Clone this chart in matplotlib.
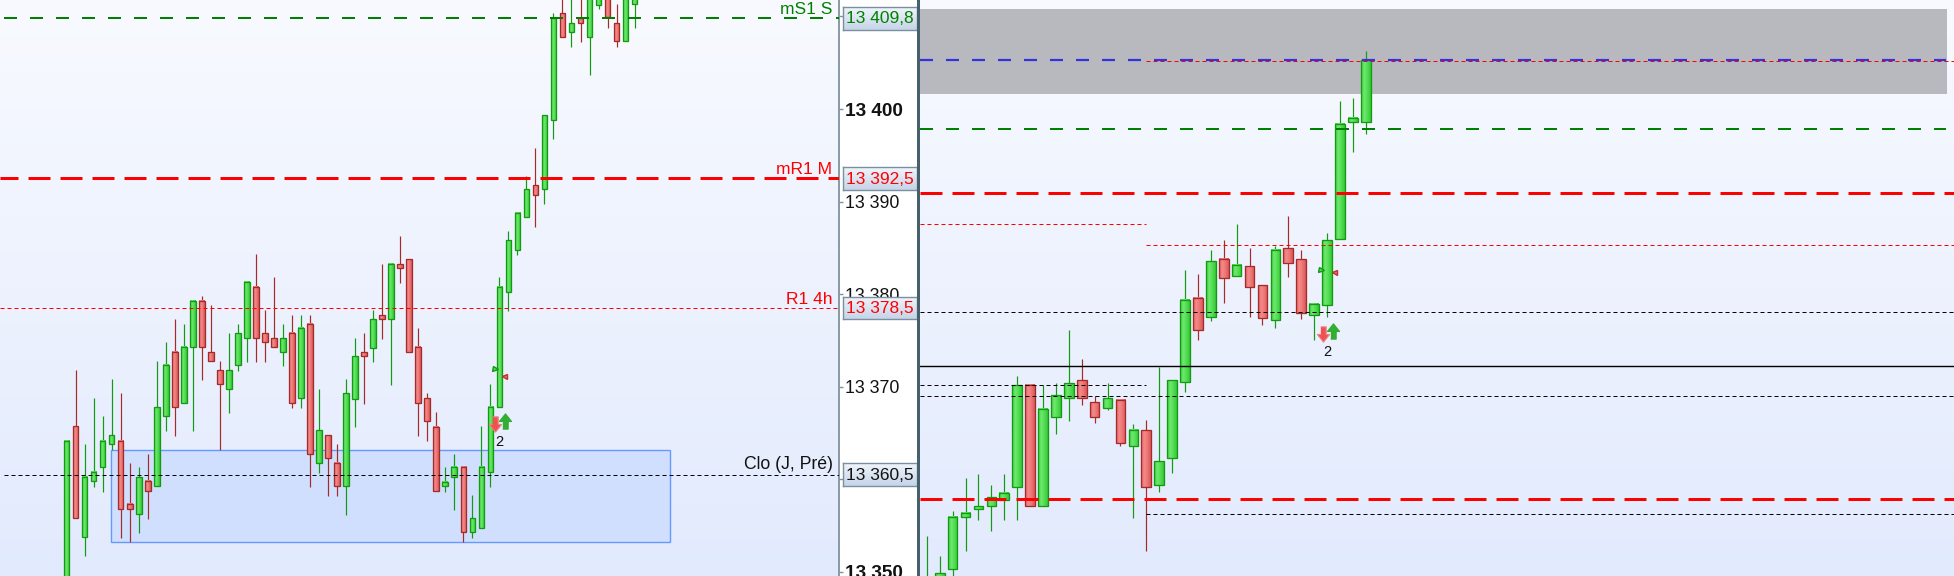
import matplotlib
matplotlib.use("Agg")
import matplotlib.pyplot as plt
import numpy as np
from matplotlib.colors import LinearSegmentedColormap
from matplotlib.patches import Rectangle

plt.rcParams['font.family'] = ['Liberation Sans', 'DejaVu Sans']

# left chart candles
left_top = [13364.18, 13365.73, 13360.22, 13360.77, 13364.18, 13364.76, 13364.18, 13357.31, 13360.22, 13359.79,
            13367.78, 13372.32, 13373.72, 13374.26, 13379.23, 13379.23, 13373.72, 13371.78, 13371.78, 13375.77,
            13381.28, 13380.74, 13375.77, 13375.23, 13375.23, 13375.77, 13376.31, 13376.75, 13365.30, 13364.76,
            13361.74, 13369.29, 13373.29, 13373.72, 13377.28, 13377.71, 13383.22, 13383.22, 13383.76, 13374.26,
            13368.75, 13365.69, 13359.75, 13361.30, 13361.30, 13355.79, 13361.30, 13367.78, 13380.74, 13385.81,
            13388.73, 13391.32, 13391.76, 13399.31, 13409.86, 13410.33, 13409.25, 13409.86, 13413.00, 13412.50,
            13413.00, 13409.25, 13413.00, 13412.50]
left_bot = [13348.00, 13355.80, 13353.74, 13359.79, 13361.30, 13363.79, 13356.77, 13356.77, 13356.23, 13358.71,
            13359.25, 13366.81, 13367.78, 13368.21, 13374.26, 13374.26, 13372.75, 13370.27, 13369.73, 13372.32,
            13375.23, 13375.23, 13374.80, 13374.26, 13373.72, 13368.21, 13368.75, 13362.71, 13361.74, 13362.28,
            13359.25, 13359.25, 13368.72, 13373.29, 13374.22, 13377.28, 13377.28, 13382.79, 13373.72, 13368.21,
            13366.27, 13358.71, 13359.25, 13360.22, 13354.28, 13354.28, 13354.71, 13360.76, 13367.78, 13380.27,
            13384.73, 13388.30, 13390.75, 13391.32, 13398.77, 13407.74, 13408.28, 13409.25, 13407.74, 13411.27,
            13409.90, 13407.31, 13407.31, 13411.30]
left_high = [13364.18, 13371.78, 13363.79, 13368.75, 13366.81, 13370.81, 13369.29, 13361.74, 13361.30, 13362.71,
             13372.75, 13374.80, 13377.29, 13376.75, 13379.23, 13379.77, 13378.80, 13372.75, 13375.77, 13376.75,
             13381.28, 13384.31, 13378.26, 13381.82, 13376.75, 13377.72, 13377.72, 13377.72, 13369.73, 13364.76,
             13363.79, 13370.81, 13375.23, 13375.77, 13378.25, 13383.22, 13383.22, 13386.25, 13383.76, 13376.31,
             13369.29, 13367.24, 13361.30, 13362.70, 13361.30, 13358.28, 13365.73, 13370.26, 13381.82, 13386.79,
             13388.73, 13392.77, 13395.75, 13399.31, 13410.33, 13413.00, 13413.00, 13413.00, 13413.00, 13412.50,
             13413.00, 13411.30, 13413.00, 13412.50]
left_low = [13347.00, 13355.80, 13351.77, 13359.22, 13358.67, 13363.21, 13353.71, 13353.24, 13354.25, 13355.77,
            13359.25, 13365.26, 13364.72, 13368.21, 13365.26, 13370.77, 13372.75, 13363.14, 13367.21, 13371.74,
            13372.71, 13372.71, 13372.71, 13374.26, 13372.28, 13367.71, 13367.71, 13359.22, 13360.73, 13358.24,
            13358.24, 13356.19, 13365.69, 13368.17, 13372.71, 13375.20, 13370.23, 13381.24, 13373.72, 13364.72,
            13364.18, 13358.71, 13358.67, 13356.73, 13353.24, 13353.71, 13354.71, 13359.21, 13367.78, 13378.22,
            13384.27, 13388.30, 13387.29, 13389.77, 13396.80, 13407.74, 13406.73, 13407.27, 13403.71, 13410.77,
            13408.78, 13406.73, 13407.31, 13408.78]
left_up = [1, 0, 1, 1, 1, 1, 0, 0, 1, 0, 1, 1, 0, 1, 1, 0, 0, 0, 1, 1, 1, 0, 0, 0, 1, 0, 1, 0, 1, 0, 0, 1,
           1, 0, 1, 0, 1, 0, 0, 0, 0, 0, 1, 1, 0, 1, 1, 1, 1, 1, 1, 1, 0, 1, 1, 0, 1, 0, 1, 1, 0, 0, 1, 1]

# right chart candles
right_top = [13312.00, 13314.45, 13323.78, 13324.45, 13325.61, 13327.11, 13327.78, 13345.78, 13345.78, 13341.78,
             13344.11, 13346.11, 13346.61, 13342.95, 13343.61, 13343.28, 13338.28, 13338.28, 13333.11, 13346.61,
             13359.95, 13360.28, 13366.44, 13366.78, 13365.78, 13365.61, 13362.44, 13368.28, 13368.61, 13366.78,
             13359.28, 13369.94, 13389.28, 13390.28, 13399.94]
right_bot = [13310.00, 13311.00, 13315.11, 13323.78, 13325.23, 13325.61, 13326.61, 13328.78, 13325.61, 13325.61,
             13340.45, 13343.61, 13343.61, 13340.45, 13341.95, 13336.11, 13335.61, 13328.78, 13329.11, 13333.61,
             13346.28, 13354.94, 13357.11, 13363.61, 13363.94, 13362.11, 13356.94, 13356.61, 13366.11, 13357.78,
             13357.44, 13359.11, 13370.11, 13389.61, 13389.61]
right_high = [13320.67, 13317.34, 13324.78, 13330.28, 13330.95, 13329.11, 13330.95, 13347.28, 13345.78, 13345.78,
              13346.11, 13354.95, 13350.11, 13343.95, 13346.11, 13343.28, 13339.28, 13339.95, 13348.78, 13346.61,
              13364.94, 13364.28, 13368.28, 13369.94, 13372.61, 13368.61, 13362.44, 13368.94, 13373.94, 13368.28,
              13359.28, 13371.11, 13393.11, 13393.61, 13401.44]
right_low = [13308.00, 13310.00, 13313.00, 13318.23, 13323.39, 13321.56, 13323.39, 13323.39, 13325.61, 13325.61,
             13337.73, 13339.89, 13342.56, 13339.56, 13341.67, 13335.73, 13323.73, 13318.23, 13328.06, 13331.23,
             13344.73, 13353.39, 13356.56, 13359.56, 13363.94, 13357.11, 13355.89, 13355.28, 13363.89, 13356.89,
             13353.39, 13357.11, 13370.11, 13384.72, 13387.72]
right_up = [1, 1, 1, 1, 1, 1, 1, 1, 0, 1, 1, 1, 0, 0, 1, 0, 1, 0, 1, 1, 1, 0, 1, 0, 1, 0, 0, 1, 0, 0, 1, 1, 1, 1, 1]

# price levels
left_ticks = [13350, 13360, 13370, 13380, 13390, 13400, 13410]
tick_labels = ['13 350', '13 360', '13 370', '13 380', '13 390', '13 400', '13 410']
bold_ticks = ['13 350', '13 400']
lev_ms1 = 13409.8
lev_mr1 = 13392.5
lev_r1 = 13378.5
lev_clo = 13360.5
zone_left = (13353.21, 13363.14)
zone_right = (13394.38, 13408.5)
r_blue = 13400.05
r_red_dot_top = 13399.84
r_green = 13388.55
r_red_thick = [13377.78, 13326.78]
r_red_dot_a = 13372.62
r_red_dot_b = 13369.12
r_black_full = [13357.95, 13343.92]
r_black_solid = 13348.93
r_black_a = 13345.78
r_black_b = 13324.28

# signals, candle index and price
left_tri = [(47.55, 13371.89), (48.47, 13371.13)]
left_arrows = [(47.47, 13365.98), (48.58, 13366.34)]
left_count = (47.96, 13364.04)
right_tri = [(30.57, 13364.95), (31.56, 13364.62)]
right_arrows = [(30.67, 13354.33), (31.45, 13354.88)]
right_count = (31.04, 13351.33)

W, H = 1954, 576
PX = 72.0 / 100.0
L_END = 838.5
R_START = 919.5
L_X0, L_STEP = 66.6, 9.016
R_X0, R_STEP = 926.8, 12.91

fig = plt.figure(figsize=(W / 100, H / 100), dpi=100, facecolor='white')
ax1 = fig.add_axes([0, 0, L_END / W, 1])
ax2 = fig.add_axes([R_START / W, 0, (W - R_START) / W, 1])

ax1.set_xlim(-L_X0 / L_STEP, (L_END - L_X0) / L_STEP)
ax1.set_ylim(13400 - (H - 109) / 9.26, 13400 + 109 / 9.26)
ax2.set_xlim((R_START - R_X0) / R_STEP, (W - R_X0) / R_STEP)
ax2.set_ylim(13410 - H / 6.0, 13410)

bg = LinearSegmentedColormap.from_list('bg', ['#f8faff', '#e2eafd'])
green_cm = LinearSegmentedColormap.from_list('g', ['#3fd03f', '#6ee86e', '#52dc52', '#36c836'])
red_cm = LinearSegmentedColormap.from_list('r', ['#e06464', '#f58a8a', '#ec7474', '#d85a5a'])
grad = np.linspace(0, 1, 32).reshape(1, -1)
vgrad = np.linspace(0, 1, 256).reshape(-1, 1)


def candles(ax, top, bot, high, low, up, width):
    lims = ax.get_xlim(), ax.get_ylim()
    for i in range(len(top)):
        edge = '#129a12' if up[i] else '#a52a2a'
        ax.vlines(i, low[i], high[i], color=edge, lw=1.2 * PX, zorder=3)
        ax.imshow(grad, cmap=green_cm if up[i] else red_cm, aspect='auto', zorder=4,
                  extent=(i - width / 2, i + width / 2, bot[i], top[i]))
        ax.add_patch(Rectangle((i - width / 2, bot[i]), width, top[i] - bot[i], fill=False,
                               ec=edge, lw=1.3 * PX, zorder=5))
    ax.set_xlim(lims[0])
    ax.set_ylim(lims[1])


def level(ax, y, color, lw, on, off, x0=0.0, x1=1.0, offset=0.0, z=7):
    # on/off in pixels
    ax.plot([x0, x1], [y, y], transform=ax.get_yaxis_transform(), color=color, lw=lw * PX,
            linestyle=(offset / lw, (on / lw, off / lw)), dash_capstyle='butt', zorder=z)


def signals(ax, tri, arrows, count):
    ax.plot(*tri[0], marker='>', ms=3.6, mfc='#58d858', mec='#129a12', mew=1, zorder=8)
    ax.plot(*tri[1], marker='<', ms=3.6, mfc='#f07070', mec='#c03030', mew=1, zorder=8)
    up = [(-0.35, -1), (0.35, -1), (0.35, 0), (0.8, 0), (0, 1), (-0.8, 0), (-0.35, 0)]
    down = [(x, -y) for x, y in up]
    ax.plot(*arrows[0], marker=down, ms=11, mfc='#f25050', mec='#ee8080', mew=0.8, zorder=8)
    ax.plot(*arrows[1], marker=up, ms=11, mfc='#30b030', mec='#38a838', mew=0.8, zorder=8)
    ax.text(count[0], count[1], '2', fontsize=10.5, color='#111111', ha='center', va='center', zorder=8)


for ax in (ax1, ax2):
    ax.imshow(vgrad, cmap=bg, aspect='auto', extent=(*ax.get_xlim(), ax.get_ylim()[0], ax.get_ylim()[1]),
              zorder=0, origin='upper')

# left panel
ax1.add_patch(Rectangle(((111.3 - L_X0) / L_STEP, zone_left[0]), (670.3 - 111.3) / L_STEP,
                        zone_left[1] - zone_left[0], fc='#d0dffe', ec='#6699ff', lw=1.0, zorder=1))
candles(ax1, left_top, left_bot, left_high, left_low, left_up, 5.6 / L_STEP)
level(ax1, lev_ms1, '#008000', 2.0, 13, 13, x0=4 / L_END)
level(ax1, lev_mr1, '#ff0000', 3.0, 22, 10, offset=4)
level(ax1, lev_r1, '#ff0000', 1.0, 4, 3)
level(ax1, lev_clo, '#000000', 1.0, 4, 3, x0=4 / L_END)
signals(ax1, left_tri, left_arrows, left_count)

for txt, val, col, dy, fs in [('mS1 S', lev_ms1, '#008000', 3, 12.5), ('mR1 M', lev_mr1, '#ff0000', 3, 12.5),
                              ('R1 4h', lev_r1, '#ff0000', 3, 12.5), ('Clo (J, Pré)', lev_clo, '#111111', 4.2, 12.7)]:
    ax1.annotate(txt, xy=(832.5 / L_END, val), xycoords=ax1.get_yaxis_transform(), xytext=(0, dy),
                 textcoords='offset points', ha='right', va='baseline', color=col, fontsize=fs, zorder=9)

ax1.set_xticks([])
ax1.yaxis.tick_right()
ax1.set_yticks(left_ticks)
ax1.set_yticklabels(tick_labels, fontsize=12.8, color='#111111')
for lab in ax1.get_yticklabels():
    if lab.get_text() in bold_ticks:
        lab.set_fontweight('bold')
        lab.set_fontsize(13.7)
ax1.tick_params(axis='y', length=3, width=1, color='#7f929e', pad=2)
for name, sp in ax1.spines.items():
    sp.set_visible(name == 'right')
ax1.spines['right'].set_color('#7f929e')
ax1.spines['right'].set_linewidth(1.3)

# price boxes on the axis strip
box_cm = LinearSegmentedColormap.from_list('box', ['#f0f5fc', '#c6d4e8'])
for txt, val, col in [('13 409,8', lev_ms1, '#008000'), ('13 392,5', lev_mr1, '#ff0000'),
                      ('13 378,5', lev_r1, '#ff0000'), ('13 360,5', lev_clo, '#111111')]:
    h = 22.6 / 9.26
    box = ax1.inset_axes([843.3 / L_END, val - h / 2, 73.4 / L_END, h], transform=ax1.get_yaxis_transform(), zorder=10)
    box.imshow(vgrad, cmap=box_cm, aspect='auto', extent=(0, 1, 0, 1), origin='upper')
    box.set_xticks([])
    box.set_yticks([])
    for sp in box.spines.values():
        sp.set_color('#7a8f9f')
        sp.set_linewidth(1.0)
    box.text(0.5, 0.47, txt, transform=box.transAxes, ha='center', va='center', color=col, fontsize=12.5)

# separator
fig.add_artist(Rectangle((917 / W, 0), 2.6 / W, 1, transform=fig.transFigure, fc='#46606c', ec='none', zorder=20))

# right panel
ax2.add_patch(Rectangle((0, zone_right[0]), (1947 - R_START) / (W - R_START), zone_right[1] - zone_right[0],
                        transform=ax2.get_yaxis_transform(), fc='#b8b9be', ec='none', zorder=1))
candles(ax2, right_top, right_bot, right_high, right_low, right_up, 9.6 / R_STEP)
frac = (1146 - R_START) / (W - R_START)
end = (1946 - R_START) / (W - R_START)
level(ax2, r_red_dot_top, '#ff0000', 1.0, 4, 3, x0=frac)
level(ax2, r_blue, '#3333dd', 2.2, 13, 13, x1=end, z=7.5)
level(ax2, r_green, '#008000', 2.0, 13, 13, x1=end)
level(ax2, r_red_dot_a, '#ff0000', 1.0, 4, 3, x1=frac)
level(ax2, r_red_dot_b, '#ff0000', 1.0, 4, 3, x0=frac)
for v in r_red_thick:
    level(ax2, v, '#ff0000', 3.0, 22, 10)
for v in r_black_full:
    level(ax2, v, '#000000', 1.0, 4, 3)
level(ax2, r_black_a, '#000000', 1.0, 4, 3, x1=frac)
level(ax2, r_black_b, '#000000', 1.0, 4, 3, x0=frac)
ax2.axhline(r_black_solid, color='#000000', lw=1.4 * PX, zorder=7)
signals(ax2, right_tri, right_arrows, right_count)
ax2.set_xticks([])
ax2.set_yticks([])
for sp in ax2.spines.values():
    sp.set_visible(False)

fig.savefig('out.png', dpi=100)
